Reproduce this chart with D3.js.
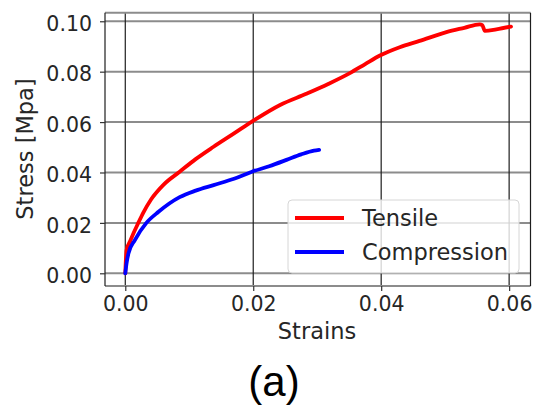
<!DOCTYPE html>
<html>
<head>
<meta charset="utf-8">
<script src="https://cdn.jsdelivr.net/npm/d3@7"></script>
<style>
  body { margin: 0; background: #fff; }
  svg text { font-family: "DejaVu Sans", sans-serif; }
</style>
</head>
<body>
<div id="chart"></div>
<script>
// values
const tensileStrain = [0, 0.0002, 0.0008, 0.0013, 0.002, 0.0028, 0.004, 0.006, 0.0085, 0.011, 0.0138, 0.017, 0.0198, 0.0242, 0.0283, 0.0318, 0.0351, 0.0375, 0.0398, 0.0429, 0.046, 0.0502, 0.053, 0.0554, 0.0558, 0.0562, 0.058, 0.0603]
const tensileStress = [0, 0.0092, 0.013, 0.016, 0.0198, 0.024, 0.0292, 0.0352, 0.0403, 0.0453, 0.0502, 0.0555, 0.0602, 0.0668, 0.0712, 0.0752, 0.0794, 0.083, 0.0864, 0.0897, 0.0922, 0.0957, 0.0974, 0.0988, 0.0985, 0.0962, 0.0968, 0.0979]

const compStrain = [0, 0.0002, 0.0005, 0.0015, 0.0033, 0.0052, 0.0085, 0.011, 0.0138, 0.017, 0.0198, 0.0225, 0.0252, 0.0275, 0.0295, 0.0303]
const compStress = [0, 0.004, 0.0079, 0.0132, 0.020, 0.0244, 0.0302, 0.0328, 0.035, 0.0375, 0.0403, 0.0425, 0.045, 0.0472, 0.0487, 0.049]

const xTicks = [0, 0.02, 0.04, 0.06]
const yTicks = [0, 0.02, 0.04, 0.06, 0.08, 0.10]

const series = [
    {name: "Tensile", color: "#ff0000", xs: tensileStrain, ys: tensileStress},
    {name: "Compression", color: "#0000ff", xs: compStrain, ys: compStress}
]

window.onload = function(){

    const svg = d3.select("#chart")
    .append("svg")
        .attr("width", 537)
        .attr("height", 408)

    const x = d3.scaleLinear()
        .domain([-0.00317, 0.06334])
        .range([105, 530.5])

    const y = d3.scaleLinear()
        .domain([-0.00504, 0.1034])
        .range([286, 12.7])

    // grid
    svg.append("g").selectAll("line")
        .data(yTicks).enter()
        .append("line")
        .attr("x1", 105).attr("x2", 530.5)
        .attr("y1", d => y(d)).attr("y2", d => y(d))
        .attr("stroke", "#8c8c8c")
        .attr("stroke-width", 2)

    svg.append("g").selectAll("line")
        .data(xTicks).enter()
        .append("line")
        .attr("y1", 12.7).attr("y2", 286)
        .attr("x1", d => x(d)).attr("x2", d => x(d))
        .attr("stroke", "#1e1e1e")
        .attr("stroke-width", 1.2)

    // curves
    const valueLine = d3.line()
        .curve(d3.curveMonotoneX)
        .x(d => x(d[0]))
        .y(d => y(d[1]))

    series.forEach(s => {
        svg.append("path")
            .datum(s.xs.map((v, i) => [v, s.ys[i]]))
            .attr("fill", "none")
            .attr("stroke", s.color)
            .attr("stroke-width", 3.8)
            .attr("stroke-linejoin", "round")
            .attr("stroke-linecap", "round")
            .attr("d", valueLine)
    })

    // spines
    svg.append("line").attr("x1", 105).attr("x2", 530.5).attr("y1", 12.7).attr("y2", 12.7)
        .attr("stroke", "#8c8c8c").attr("stroke-width", 2)
    svg.append("line").attr("x1", 105).attr("x2", 530.5).attr("y1", 286).attr("y2", 286)
        .attr("stroke", "#8c8c8c").attr("stroke-width", 2)
    svg.append("line").attr("x1", 105).attr("x2", 105).attr("y1", 12.7).attr("y2", 286)
        .attr("stroke", "#1e1e1e").attr("stroke-width", 1.2)
    svg.append("line").attr("x1", 530.5).attr("x2", 530.5).attr("y1", 12.7).attr("y2", 286)
        .attr("stroke", "#1e1e1e").attr("stroke-width", 1.2)

    // axes
    const xAxis = svg.append("g")
        .attr("transform", "translate(0, 286)")
        .call(d3.axisBottom(x).tickValues(xTicks).tickFormat(d3.format(".2f")).tickSize(5).tickPadding(4))
    const yAxis = svg.append("g")
        .attr("transform", "translate(105, 0)")
        .call(d3.axisLeft(y).tickValues(yTicks).tickFormat(d3.format(".2f")).tickSize(5).tickPadding(8))

    ;[xAxis, yAxis].forEach(a => {
        a.select(".domain").remove()
        a.selectAll(".tick line").attr("stroke", "#333").attr("stroke-width", 1.2)
        a.selectAll(".tick text")
            .style("font-family", "DejaVu Sans")
            .style("font-size", "20.5px")
            .style("fill", "#262626")
    })
    xAxis.selectAll(".tick text").attr("dy", "0.71em").attr("y", 10)
    yAxis.selectAll(".tick text").attr("dy", "0.45em")

    svg.append("text")
        .attr("x", 317).attr("y", 339)
        .attr("text-anchor", "middle")
        .style("font-size", "22.5px")
        .style("fill", "#262626")
        .text("Strains")

    svg.append("text")
        .attr("transform", "translate(33, 149) rotate(-90)")
        .attr("text-anchor", "middle")
        .style("font-size", "22.5px")
        .style("fill", "#262626")
        .text("Stress [Mpa]")

    // legend
    const legend = svg.append("g")
    legend.append("rect")
        .attr("x", 288).attr("y", 200)
        .attr("width", 231).attr("height", 73)
        .attr("rx", 4)
        .attr("fill", "#fff").attr("fill-opacity", 0.8)
        .attr("stroke", "#d6d6d6").attr("stroke-width", 1)

    series.forEach((s, i) => {
        const ly = 218 + i * 34
        legend.append("line")
            .attr("x1", 295).attr("x2", 344)
            .attr("y1", ly).attr("y2", ly)
            .attr("stroke", s.color)
            .attr("stroke-width", 3.8)
        legend.append("text")
            .attr("x", 362).attr("y", ly + 8)
            .style("font-size", "22.5px")
            .style("fill", "#262626")
            .text(s.name)
    })

    svg.append("text")
        .attr("x", 274).attr("y", 396)
        .attr("text-anchor", "middle")
        .style("font-family", "Liberation Sans, Arial, sans-serif")
        .style("font-size", "42px")
        .style("fill", "#000")
        .text("(a)")
}
</script>
</body>
</html>
